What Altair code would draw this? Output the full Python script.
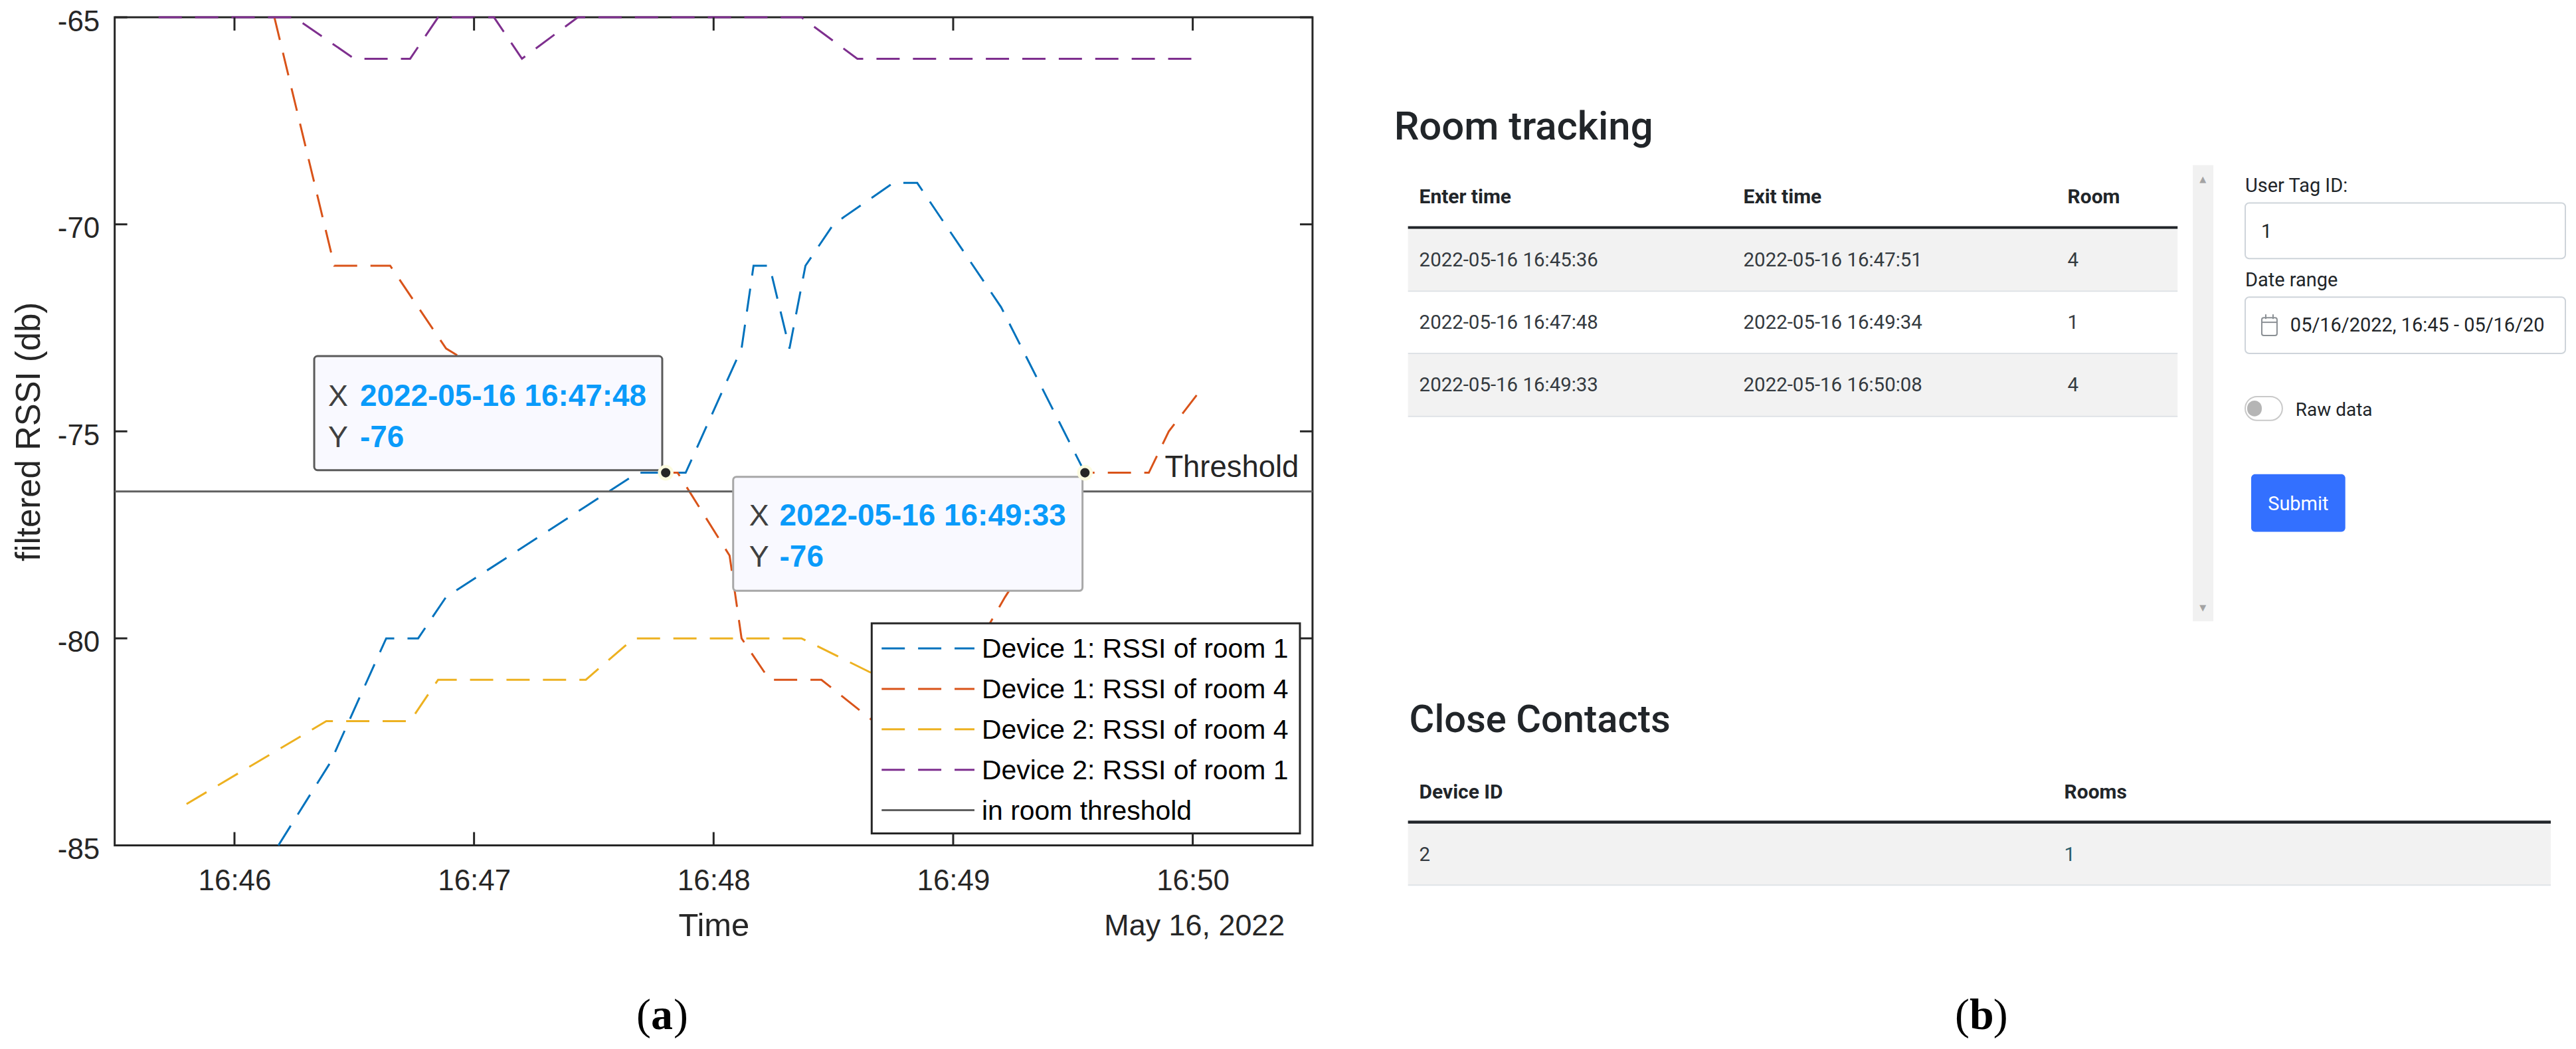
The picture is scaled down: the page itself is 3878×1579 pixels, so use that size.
import altair as alt
import pandas as pd

# ---------- values ----------
DAY = "2022-05-16T"
blue_t = ["16:46:11","16:46:24","16:46:38","16:46:46","16:46:53","16:47:41","16:47:53","16:48:07","16:48:10","16:48:14","16:48:19","16:48:23","16:48:30","16:48:45","16:48:51","16:49:12","16:49:33"]
blue_v = [-85,-83,-80,-80,-79,-76,-76,-73,-71,-71,-73,-71,-70,-69,-69,-72,-76]
red_t = ["16:46:10","16:46:25","16:46:39","16:46:53","16:47:10","16:47:30","16:47:48","16:47:51","16:48:04","16:48:07","16:48:14","16:48:27","16:48:40","16:48:46","16:49:07","16:49:13","16:49:33","16:49:49","16:49:54","16:50:02"]
red_v = [-65,-71,-71,-73,-74,-75,-76,-76,-78,-80,-81,-81,-82,-82,-80,-79,-76,-76,-75,-74]
yellow_t = ["16:45:48","16:46:23","16:46:44","16:46:51","16:47:28","16:47:40","16:48:22","16:48:43","16:49:40"]
yellow_v = [-84,-82,-82,-81,-81,-80,-80,-81,-81]
purple_t = ["16:45:41","16:46:15","16:46:30","16:46:44","16:46:51","16:47:05","16:47:12","16:47:26","16:48:22","16:48:36","16:50:00"]
purple_v = [-65,-65,-66,-66,-65,-65,-66,-65,-65,-66,-66]
threshold_t = ["16:45:30","16:50:30"]
threshold_v = [-76.45,-76.45]
series_names = ["Device 1: RSSI of room 1","Device 1: RSSI of room 4","Device 2: RSSI of room 4","Device 2: RSSI of room 1","in room threshold"]
series_colors = ["#0072BD","#D95319","#EDB120","#7E2F8E","#5f5f5f"]
DASH = [35,20]
x_minutes = [46,47,48,49,50]
x_tick_t = ["16:46:00","16:47:00","16:48:00","16:49:00","16:50:00"]
y_ticks = [-85,-80,-75,-70,-65]
marked_t = ["16:47:48","16:49:33"]
marked_v = [-76,-76]

enter_times = ["2022-05-16 16:45:36","2022-05-16 16:47:48","2022-05-16 16:49:33"]
exit_times = ["2022-05-16 16:47:51","2022-05-16 16:49:34","2022-05-16 16:50:08"]
rooms = ["4","1","4"]

# ---------- layout (page pixels) ----------
PW, PH = 1807, 1249
LX, LY = 170, 24
SPACING = 40
RX = LX + PW + SPACING + 5
RY = LY
INK = "#262626"
SANS = "Liberation Sans"
UI = "Roboto"
ONE = alt.InlineData(values=[{"a": 1}])


def text(x, y, s, ox, oy, size, color=INK, font=SANS, weight="normal", align="left"):
    return alt.Chart(ONE).mark_text(
        font=font, fontSize=size, color=color, fontWeight=weight, align=align, baseline="middle"
    ).encode(x=alt.value(x - ox), y=alt.value(y - oy), text=alt.value(s))


def box(x1, y1, x2, y2, ox, oy, fill="transparent", stroke="transparent", sw=0, r=0):
    return alt.Chart(ONE).mark_rect(
        fill=fill, stroke=stroke, strokeWidth=sw, cornerRadius=r
    ).encode(x=alt.value(x1 - ox), x2=alt.value(x2 - ox), y=alt.value(y1 - oy), y2=alt.value(y2 - oy))


def seg(x1, y1, x2, y2, ox, oy, color, sw=3, dash=None):
    kw = dict(color=color, strokeWidth=sw)
    if dash:
        kw["strokeDash"] = dash
    return alt.Chart(ONE).mark_rule(**kw).encode(
        x=alt.value(x1 - ox), x2=alt.value(x2 - ox), y=alt.value(y1 - oy), y2=alt.value(y2 - oy))


# ---------- panel (a) ----------
def frame(name, ts, vs):
    return pd.DataFrame({"series": name, "t": [DAY + s for s in ts], "v": vs})


lines_df = pd.concat([
    frame(series_names[0], blue_t, blue_v),
    frame(series_names[1], red_t, red_v),
    frame(series_names[2], yellow_t, yellow_v),
    frame(series_names[3], purple_t, purple_v),
    frame(series_names[4], threshold_t, threshold_v),
], ignore_index=True)

dt = lambda m, s=0: alt.DateTime(year=2022, month="May", date=16, hours=16, minutes=m, seconds=s)
XS = alt.Scale(domain=[dt(45, 30), dt(50, 30)], nice=False)
YS = alt.Scale(domain=[-85, -65], nice=False, zero=False)
XF = alt.X("t:T", scale=XS, title="Time")
YF = alt.Y("v:Q", scale=YS, title="filtered RSSI (db)")

lines = alt.Chart(lines_df).mark_line(strokeWidth=3).encode(
    x=alt.X("t:T", title="Time", scale=XS,
            axis=alt.Axis(values=[dt(m) for m in x_minutes], format="%H:%M", grid=False,
                          domain=False, ticks=False, labelFont=SANS, labelFontSize=44,
                          labelColor=INK, labelPadding=32, titleFont=SANS, titleFontSize=49,
                          titleColor=INK, titleFontWeight="normal", titlePadding=21)),
    y=alt.Y("v:Q", title="filtered RSSI (db)", scale=YS,
            axis=alt.Axis(values=y_ticks, labelExpr="'' + datum.value", grid=False,
                          domain=False, ticks=False, labelFont=SANS, labelFontSize=44,
                          labelOffset=7,
                          labelColor=INK, labelPadding=23, titleFont=SANS, titleFontSize=51,
                          titleColor=INK, titleFontWeight="normal", titlePadding=16)),
    color=alt.Color("series:N", scale=alt.Scale(domain=series_names, range=series_colors), legend=None),
    strokeDash=alt.StrokeDash("series:N",
                              scale=alt.Scale(domain=series_names, range=[DASH, DASH, DASH, DASH, [1, 0]]),
                              legend=None),
)

xt_df = pd.DataFrame({"t": [DAY + s for s in x_tick_t]})
yt_df = pd.DataFrame({"v": y_ticks})
mk_df = pd.DataFrame({"t": [DAY + s for s in marked_t], "v": marked_v})

ticks = [
    alt.Chart(xt_df).mark_rule(color=INK, strokeWidth=3).encode(x=XF, y=alt.value(PH - 20), y2=alt.value(PH)),
    alt.Chart(xt_df).mark_rule(color=INK, strokeWidth=3).encode(x=XF, y=alt.value(0), y2=alt.value(20)),
    alt.Chart(yt_df).mark_rule(color=INK, strokeWidth=3).encode(y=YF, x=alt.value(0), x2=alt.value(19)),
    alt.Chart(yt_df).mark_rule(color=INK, strokeWidth=3).encode(y=YF, x=alt.value(PW - 19), x2=alt.value(PW)),
]

ox, oy = LX, LY
tip1 = [
    box(471, 535, 996, 707, ox, oy, fill="#f9f9ff", stroke="#5a5a5a", sw=3, r=5),
    text(492, 596, "X", ox, oy, 45, color="#404040"),
    text(540, 596, "2022-05-16 16:47:48", ox, oy, 46, color="#0a9bfa", weight="bold"),
    text(492, 658, "Y", ox, oy, 45, color="#404040"),
    text(540, 658, "-76", ox, oy, 46, color="#0a9bfa", weight="bold"),
]
tip2 = [
    box(1103, 717, 1630, 889, ox, oy, fill="#f9f9ff", stroke="#a8a8a8", sw=3, r=5),
    text(1127, 777, "X", ox, oy, 45, color="#404040"),
    text(1173, 777, "2022-05-16 16:49:33", ox, oy, 46, color="#0a9bfa", weight="bold"),
    text(1127, 839, "Y", ox, oy, 45, color="#404040"),
    text(1173, 839, "-76", ox, oy, 46, color="#0a9bfa", weight="bold"),
]
halo = alt.Chart(mk_df).mark_point(filled=True, color="#fcfbe0", size=560, opacity=1).encode(x=XF, y=YF)
dots = alt.Chart(mk_df).mark_point(filled=True, color=INK, size=200, opacity=1).encode(x=XF, y=YF)

legend_layers = [box(1312, 938, 1958, 1255, ox, oy, fill="white", stroke=INK, sw=3)]
row_y = [976, 1037, 1098, 1159, 1220]
for i, (n, c) in enumerate(zip(series_names, series_colors)):
    dash = None if i == 4 else DASH
    legend_layers.append(seg(1327, row_y[i], 1467, row_y[i], ox, oy, c, sw=3, dash=dash))
    legend_layers.append(text(1478, row_y[i] + 2, n, ox, oy, 41, color="#000000"))

left_extra = [
    text(1754, 703, "Threshold", ox, oy, 45.5),
    text(1799, 1395, "May 16, 2022", ox, oy, 45, align="center"),
    text(957, 1530, "(", ox, oy, 66, color="#000000", font="Liberation Serif"),
    text(979, 1530, "a", ox, oy, 66, color="#000000", font="Liberation Serif", weight="bold"),
    text(1013, 1530, ")", ox, oy, 66, color="#000000", font="Liberation Serif"),
]

left = alt.layer(lines, *ticks, *left_extra[:1], *tip1, *tip2, halo, dots, *legend_layers, *left_extra[1:]).properties(
    width=PW, height=PH, view=alt.ViewConfig(stroke=INK, strokeWidth=3))

# ---------- panel (b) ----------
ox, oy = RX, RY
DARK = "#212529"
GRID = "#dee2e6"
BORDER = "#ced4da"
r = []
# room tracking
r.append(text(2097, 190, "Room tracking", ox, oy, 60, color=DARK, font=UI, weight=500))
row_tops = [344, 438, 532]
row_bottoms = [436, 530, 625]
row_cy = [391, 485, 579]
col_x = [2135, 2624, 3113]
for top, bot, band in zip(row_tops, row_bottoms, [True, False, True]):
    if band:
        r.append(box(2118, top, 3279, bot, ox, oy, fill="#f2f2f2"))
    r.append(seg(2118, bot + 1, 3279, bot + 1, ox, oy, GRID, sw=2))
r.append(seg(2118, 341, 3279, 341, ox, oy, DARK, sw=4))
for cx, h in zip(col_x, ["Enter time", "Exit time", "Room"]):
    r.append(text(cx, 296, h, ox, oy, 30, color=DARK, font=UI, weight="bold"))
for y, a, b, c in zip(row_cy, enter_times, exit_times, rooms):
    r.append(text(col_x[0], y, a, ox, oy, 29.5, color="#343a40", font=UI))
    r.append(text(col_x[1], y, b, ox, oy, 29.5, color="#343a40", font=UI))
    r.append(text(col_x[2], y, c, ox, oy, 29.5, color="#343a40", font=UI))
# scrollbar
r.append(box(3302, 247, 3333, 935, ox, oy, fill="#f1f1f1"))
r.append(text(3317, 268, "▲", ox, oy, 13, color="#a3a3a3", font="DejaVu Sans", align="center"))
r.append(text(3317, 915, "▼", ox, oy, 13, color="#a3a3a3", font="DejaVu Sans", align="center"))
# form
r.append(text(3381, 278, "User Tag ID:", ox, oy, 29, color=DARK, font=UI))
r.append(box(3381, 304, 3864, 388, ox, oy, fill="white", stroke=BORDER, sw=2, r=6))
r.append(text(3405, 348, "1", ox, oy, 29, color=DARK, font=UI))
r.append(text(3381, 421, "Date range", ox, oy, 29, color=DARK, font=UI))
r.append(box(3381, 446, 3864, 531, ox, oy, fill="white", stroke=BORDER, sw=2, r=6))
r.append(box(3406, 477, 3429, 504, ox, oy, fill="white", stroke="#8a8f94", sw=2, r=3))
r.append(seg(3406, 484, 3429, 484, ox, oy, "#8a8f94", sw=2))
r.append(seg(3412, 472, 3412, 479, ox, oy, "#8a8f94", sw=2))
r.append(seg(3423, 472, 3423, 479, ox, oy, "#8a8f94", sw=2))
r.append(text(3449, 489, "05/16/2022, 16:45 - 05/16/20", ox, oy, 29, color=DARK, font=UI))
r.append(box(3381, 596, 3437, 632, ox, oy, fill="white", stroke="#c9c9c9", sw=2, r=18))
r.append(box(3384, 602, 3406, 626, ox, oy, fill="#b5b5b5", r=12))
r.append(text(3457, 617, "Raw data", ox, oy, 28, color=DARK, font=UI))
r.append(box(3390, 713, 3532, 800, ox, oy, fill="#3370ff", r=6))
r.append(text(3461, 758, "Submit", ox, oy, 29, color="white", font=UI, align="center"))
# close contacts
r.append(text(2120, 1085, "Close Contacts", ox, oy, 58, color=DARK, font=UI, weight=500))
r.append(text(2135, 1193, "Device ID", ox, oy, 30, color=DARK, font=UI, weight="bold"))
r.append(text(3108, 1193, "Rooms", ox, oy, 30, color=DARK, font=UI, weight="bold"))
r.append(box(2118, 1241, 3842, 1332, ox, oy, fill="#f2f2f2"))
r.append(seg(2118, 1333, 3842, 1333, ox, oy, GRID, sw=2))
r.append(seg(2118, 1238, 3842, 1238, ox, oy, DARK, sw=4.5))
r.append(text(2135, 1288, "2", ox, oy, 29.5, color="#343a40", font=UI))
r.append(text(3108, 1288, "1", ox, oy, 29.5, color="#2a5d6b", font=UI))
# caption
r.append(text(2943, 1530, "(", ox, oy, 66, color="#000000", font="Liberation Serif"))
r.append(text(2965, 1530, "b", ox, oy, 66, color="#000000", font="Liberation Serif", weight="bold"))
r.append(text(3001, 1530, ")", ox, oy, 66, color="#000000", font="Liberation Serif"))

right = alt.layer(*r).properties(width=1850, height=1530, view=alt.ViewConfig(stroke="transparent", strokeWidth=0))

chart = alt.hconcat(left, right, spacing=SPACING).properties(
    padding={"left": 8, "top": -0.5, "right": 0, "bottom": 0}
).configure_view(stroke="transparent").configure(background="white")

chart.save("out.html", embed_options={"renderer": "svg", "actions": False})
